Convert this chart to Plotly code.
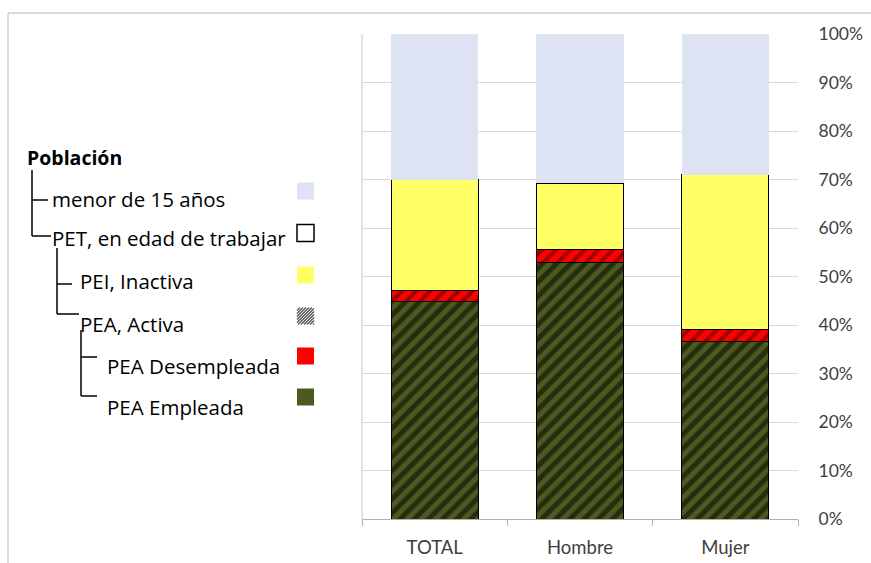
import plotly.graph_objects as go

# Population structure by sex, shares of total population (%)
categories = ["TOTAL", "Hombre", "Mujer"]
pea_empleada = [44.9, 52.9, 36.7]
pea_desempleada = [2.3, 2.7, 2.4]
pei_inactiva = [22.8, 13.6, 31.9]
menor_15 = [30.0, 30.8, 29.0]

tree_labels = [
    "menor de 15 años",
    "PET, en edad de trabajar",
    "PEI, Inactiva",
    "PEA, Activa",
    "PEA Desempleada",
    "PEA Empleada",
]

C_BLUE = "#dde3f2"
C_YELLOW = "#ffff66"
C_RED = "#ff0000"
C_OLIVE = "#4b5a1f"

W, H = 871, 563
ML, MR, MT, MB = 362, 73, 34, 44
PW = W - ML - MR
PH = H - MT - MB


def px(x):
    return (x - ML) / PW


def py(y):
    return (H - MB - y) / PH


fig = go.Figure()

outline = dict(color="black", width=1)
fig.add_trace(go.Bar(
    x=categories, y=pea_empleada, name="PEA Empleada",
    marker=dict(color=C_OLIVE, line=outline,
                pattern=dict(shape="/", fgcolor="black", bgcolor=C_OLIVE,
                             size=10, solidity=0.5)),
))
fig.add_trace(go.Bar(
    x=categories, y=pea_desempleada, name="PEA Desempleada",
    marker=dict(color=C_RED, line=outline,
                pattern=dict(shape="/", fgcolor="#3a0000", bgcolor=C_RED,
                             size=10, solidity=0.4)),
))
fig.add_trace(go.Bar(
    x=categories, y=pei_inactiva, name="PEI, Inactiva",
    marker=dict(color=C_YELLOW, line=outline),
))
fig.add_trace(go.Bar(
    x=categories, y=menor_15, name="menor de 15 años",
    marker=dict(color=C_BLUE, line=dict(width=0)),
))

FONT = "Lato"
TREE_FONT = "Open Sans"
shapes = []
annotations = []

# outer frame (top and left edges)
frame = dict(type="line", xref="paper", yref="paper",
             line=dict(color="#b8b8b8", width=1), layer="below")
shapes.append(dict(frame, x0=px(8), x1=px(W + 5), y0=py(13), y1=py(13)))
shapes.append(dict(frame, x0=px(8), x1=px(8), y0=py(13), y1=py(H + 5)))

# left edge of the plotting area
shapes.append(dict(type="line", xref="paper", yref="paper",
                   x0=0, x1=0, y0=0, y1=1,
                   line=dict(color="#c8c8c8", width=1), layer="below"))

# tree connectors
tree = dict(type="line", xref="paper", yref="paper",
            line=dict(color="black", width=1.5))
segments = [
    (32, 170, 32, 236), (32, 200, 48, 200), (32, 236, 51, 236),
    (57, 248, 57, 314), (57, 284, 72, 284), (57, 314, 79, 314),
    (81, 330, 81, 396), (81, 357, 97, 357), (81, 396, 97, 396),
]
for x0, y0, x1, y1 in segments:
    shapes.append(dict(tree, x0=px(x0), y0=py(y0), x1=px(x1), y1=py(y1)))

annotations.append(dict(
    text="<b>Población</b>", x=px(25), y=py(157), xref="paper", yref="paper",
    xanchor="left", yanchor="middle", showarrow=False,
    font=dict(family=TREE_FONT, size=19.5, color="black"),
))
label_pos = [(50, 199), (50, 238), (78, 281), (78, 324), (105, 366), (105, 407)]
for lab, (lx, ly) in zip(tree_labels, label_pos):
    annotations.append(dict(
        text=lab, x=px(lx), y=py(ly), xref="paper", yref="paper",
        xanchor="left", yanchor="middle", showarrow=False,
        font=dict(family=TREE_FONT, size=20.5, color="black"),
    ))

# swatches
sw_x0, sw_x1 = 297, 314
swatch_y = [191, 233, 275, 316, 356, 397]
fills = [C_BLUE, "white", C_YELLOW, "white", C_RED, C_OLIVE]
borders = [None, "black", None, None, None, None]
for cy, fc, bc in zip(swatch_y, fills, borders):
    shapes.append(dict(
        type="rect", xref="paper", yref="paper",
        x0=px(sw_x0), x1=px(sw_x1), y0=py(cy - 8.5), y1=py(cy + 8.5),
        fillcolor=fc,
        line=dict(color=bc if bc else fc, width=1.5 if bc else 0),
    ))

# hatched swatch for "PEA, Activa"
hy = swatch_y[3]
top, bot = hy - 8.5, hy + 8.5
step = 3
k = -17
while k < 17:
    # diagonal "/" line clipped to the square
    xa, ya = sw_x0 + k, bot
    xb, yb = sw_x0 + k + 17, top
    if xa < sw_x0:
        ya = bot - (sw_x0 - xa)
        xa = sw_x0
    if xb > sw_x1:
        yb = top + (xb - sw_x1)
        xb = sw_x1
    if xb > xa:
        shapes.append(dict(type="line", xref="paper", yref="paper",
                           x0=px(xa), y0=py(ya), x1=px(xb), y1=py(yb),
                           line=dict(color="#505050", width=1.3)))
    k += step

fig.update_layout(
    width=W, height=H,
    margin=dict(l=ML, r=MR, t=MT, b=MB),
    paper_bgcolor="white", plot_bgcolor="white",
    barmode="stack", bargap=0.4,
    showlegend=False,
    font=dict(family=FONT, size=16, color="#404040"),
    shapes=shapes, annotations=annotations,
    xaxis=dict(
        automargin=False,
        showline=True, linecolor="#b0b0b0", linewidth=1,
        ticks="outside", tickson="boundaries", ticklen=6, tickcolor="#b0b0b0",
        ticklabelstandoff=12,
        showgrid=False, tickfont=dict(size=18.5, color="#404040"),
        range=[-0.5, 2.5],
    ),
    yaxis=dict(
        automargin=False,
        side="right", range=[0, 100], dtick=10, ticksuffix="%",
        showgrid=True, gridcolor="#d9d9d9", gridwidth=1,
        zeroline=False, showline=False,
        ticks="outside", ticklen=16, tickcolor="rgba(0,0,0,0)",
        tickfont=dict(size=17.5, color="#404040"),
    ),
)

fig.write_html("out.html")
